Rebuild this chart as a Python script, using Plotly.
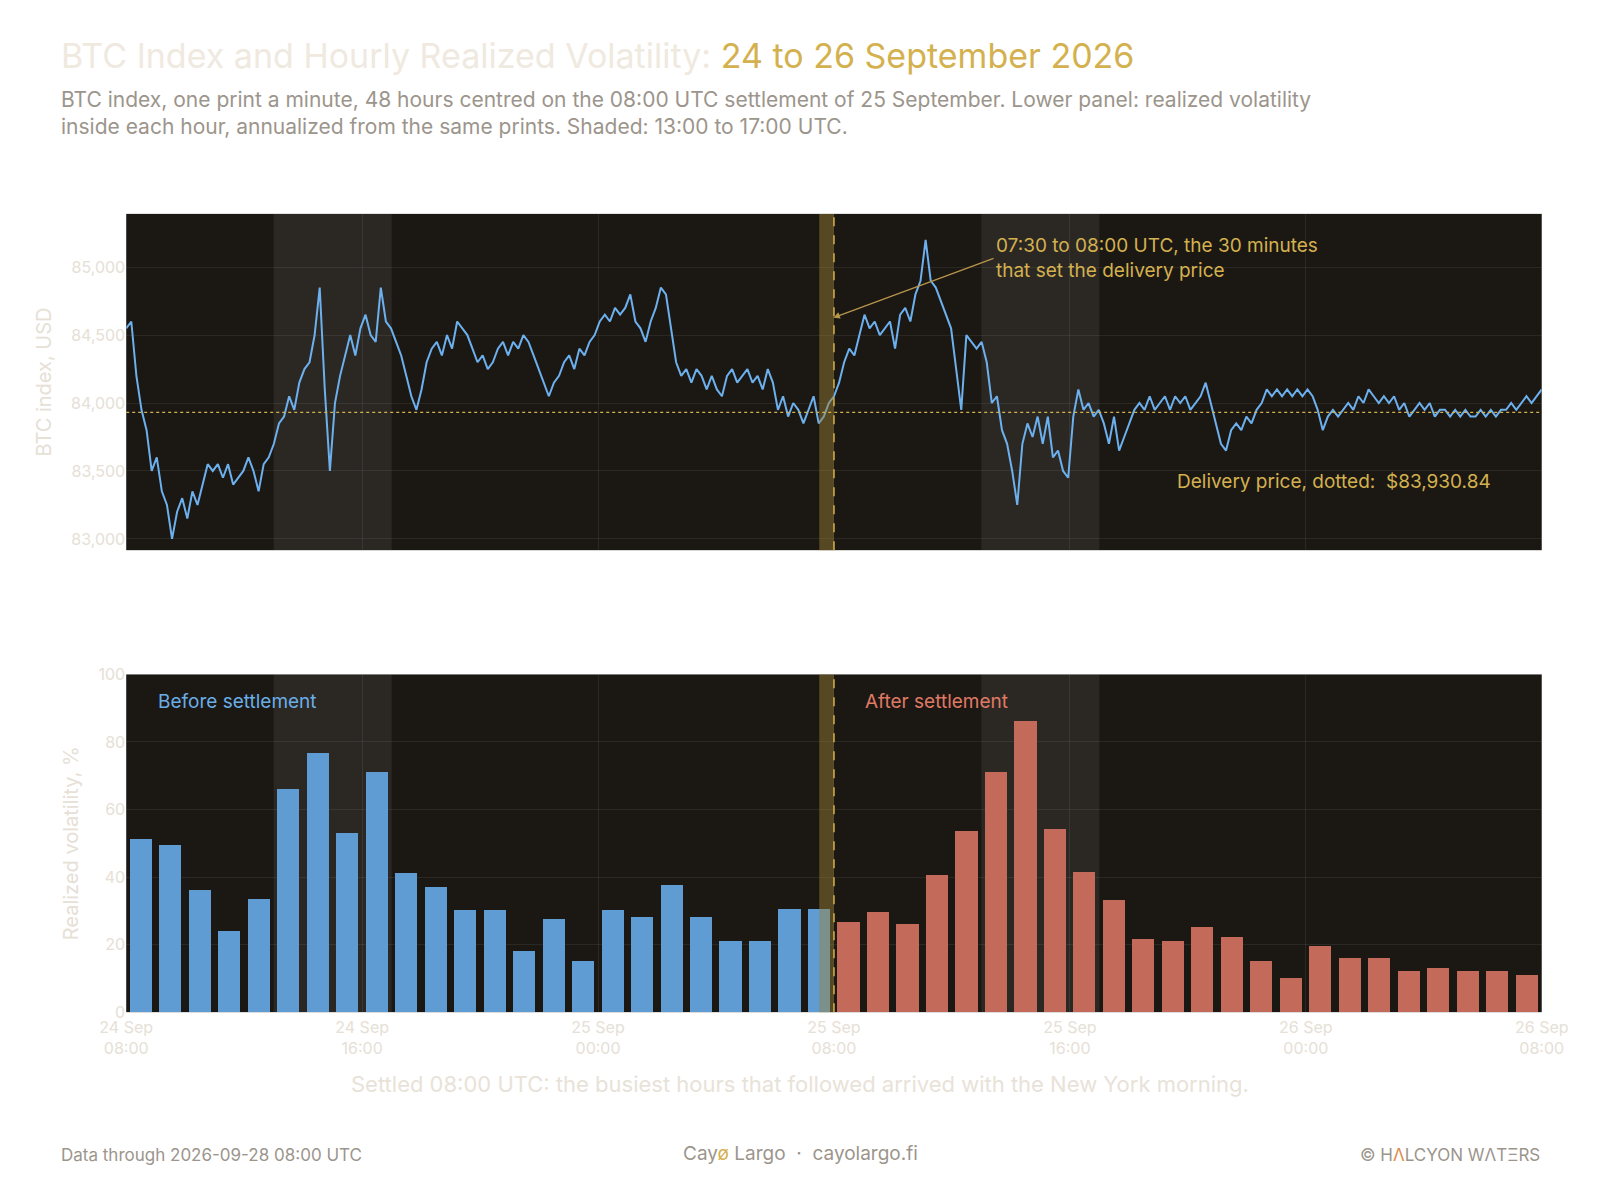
import numpy as np
import pandas as pd
import plotly.graph_objects as go

start = pd.Timestamp("2026-09-24 08:00")
end = pd.Timestamp("2026-09-26 08:00")
settle = pd.Timestamp("2026-09-25 08:00")
delivery_price = 83930.84

# BTC index readings, evenly spaced across the 48 hours
price = [84550,84600,84200,83950,83800,83500,83600,83350,83250,83000,83200,83300,83150,83350,83250,83400,83550,83500,83550,83450,
 83550,83400,83450,83500,83600,83500,83350,83550,83600,83700,83850,83900,84050,83950,84150,84250,84300,84500,84850,84100,
 83500,84000,84200,84350,84500,84350,84550,84650,84500,84450,84850,84600,84550,84450,84350,84200,84050,83950,84100,84300,
 84400,84450,84350,84500,84400,84600,84550,84500,84400,84300,84350,84250,84300,84400,84450,84350,84450,84400,84500,84450,
 84350,84250,84150,84050,84150,84200,84300,84350,84250,84400,84350,84450,84500,84600,84650,84600,84700,84650,84700,84800,
 84600,84550,84450,84600,84700,84850,84800,84550,84300,84200,84250,84150,84250,84200,84100,84200,84100,84050,84200,84250,
 84150,84200,84250,84150,84200,84100,84250,84150,83950,84050,83900,84000,83950,83850,83950,84050,83850,83900,84000,84050,
 84150,84300,84400,84350,84500,84650,84550,84600,84500,84550,84600,84400,84650,84700,84600,84800,84900,85200,84900,84850,
 84750,84650,84550,84250,83950,84500,84450,84400,84450,84300,84000,84050,83800,83700,83500,83250,83700,83850,83750,83900,
 83700,83900,83600,83650,83500,83450,83900,84100,83950,84000,83900,83950,83850,83700,83900,83650,83750,83850,83950,84000,
 83950,84050,83950,84000,84050,83950,84050,84000,84050,83950,84000,84050,84150,84000,83850,83700,83650,83800,83850,83800,
 83900,83850,83950,84000,84100,84050,84100,84050,84100,84050,84100,84050,84100,84050,83950,83800,83900,83950,83900,83950,
 84000,83950,84050,84000,84100,84050,84000,84050,84000,84050,83950,84000,83900,83950,84000,83950,84000,83900,83950,83950,
 83900,83950,83900,83950,83900,83900,83950,83900,83950,83900,83950,83950,84000,83950,84000,84050,84000,84050,84100]

vol_before = [51,49.5,36,24,33.5,66,76.5,53,71,41,37,30,30,18,27.5,15,30,28,37.5,28,21,21,30.5,30.5]
vol_after = [26.5,29.5,26,40.5,53.5,71,86,54,41.5,33,21.5,21,25,22,15,10,19.5,16,16,12,13,12,12,11]

tick_vals = pd.date_range(start, end, freq="8h")
tick_text = [f"{t.day} Sep<br>{t:%H:%M}" for t in tick_vals]

times = pd.to_datetime(np.linspace(start.value, end.value, len(price)))
hours_b = [start + pd.Timedelta(hours=i + 0.5) for i in range(24)]
hours_a = [settle + pd.Timedelta(hours=i + 0.5) for i in range(24)]

LIGHT = "#e6e0d6"
GOLD = "#d4b14f"
FONT = "Inter"
XD = [0.059, 0.9746]

fig = go.Figure()
fig.add_trace(go.Scatter(x=times, y=price, mode="lines", line=dict(color="#6db0ee", width=2),
                         xaxis="x", yaxis="y", showlegend=False))
fig.add_trace(go.Bar(x=hours_b, y=vol_before, marker=dict(color="#5e9cd3", line_width=0),
                     width=0.75*3600e3, xaxis="x2", yaxis="y2", showlegend=False))
fig.add_trace(go.Bar(x=hours_a, y=vol_after, marker=dict(color="#c46a5a", line_width=0),
                     width=0.75*3600e3, xaxis="x2", yaxis="y2", showlegend=False))

shapes = []
for ax, ay in [("x", "y"), ("x2", "y2")]:
    for d in ["2026-09-24", "2026-09-25"]:
        shapes.append(dict(type="rect", xref=ax, yref=f"{ay} domain", x0=f"{d} 13:00", x1=f"{d} 17:00",
                           y0=0, y1=1, fillcolor="rgba(255,255,255,0.07)", line_width=0, layer="below"))
    shapes.append(dict(type="rect", xref=ax, yref=f"{ay} domain", x0="2026-09-25 07:30", x1="2026-09-25 08:00",
                       y0=0, y1=1, fillcolor="rgba(160,130,50,0.45)", line_width=0, layer="above"))
    shapes.append(dict(type="line", xref=ax, yref=f"{ay} domain", x0=settle, x1=settle, y0=0, y1=1,
                       line=dict(color=GOLD, width=1.5, dash="dash")))
shapes.append(dict(type="line", xref="x domain", yref="y", x0=0, x1=1, y0=delivery_price, y1=delivery_price,
                   line=dict(color=GOLD, width=1.2, dash="dot")))

common_axis = dict(gridcolor="rgba(255,255,255,0.07)", zeroline=False, showline=False,
                   tickfont=dict(color=LIGHT, size=16, family=FONT))

fig.update_layout(
    width=1600, height=1200, paper_bgcolor="white", plot_bgcolor="#1b1814",
    margin=dict(l=0, r=0, t=0, b=0), bargap=0,
    font=dict(family=FONT, color=LIGHT),
    xaxis=dict(domain=XD, range=[start, end], tickvals=tick_vals, showticklabels=False, **common_axis),
    yaxis=dict(domain=[0.549, 0.834], range=[82917, 85392], tickvals=[83000,83500,84000,84500,85000],
               tickformat=",", title=dict(text="BTC index, USD", font=dict(size=20, color=LIGHT), standoff=14), **common_axis),
    xaxis2=dict(domain=XD, range=[start, end], tickvals=tick_vals, ticktext=tick_text, anchor="y2",
                ticklabelstandoff=4, **common_axis),
    yaxis2=dict(domain=[0.1575, 0.4437], range=[0, 100], tickvals=[0,20,40,60,80,100], anchor="x2",
                title=dict(text="Realized volatility, %", font=dict(size=20, color=LIGHT), standoff=14), **common_axis),
    shapes=shapes,
)

ann = [
    dict(text=f"BTC Index and Hourly Realized Volatility: <span style='color:{GOLD}'>24 to 26 September 2026</span>",
         xref="paper", yref="paper", x=0.0153, y=1-38/1200, xanchor="left", yanchor="middle", showarrow=False,
         font=dict(size=34, color="#efe9df")),
    dict(text="BTC index, one print a minute, 48 hours centred on the 08:00 UTC settlement of 25 September. Lower panel: realized volatility<br>inside each hour, annualized from the same prints. Shaded: 13:00 to 17:00 UTC.",
         xref="paper", yref="paper", x=0.0153, y=1-68/1200, xanchor="left", yanchor="top", showarrow=False, align="left",
         font=dict(size=21, color="#9c958c")),
    dict(text="07:30 to 08:00 UTC, the 30 minutes<br>that set the delivery price",
         x=pd.Timestamp("2026-09-25 07:55"), y=84623, xref="x", yref="y",
         ax=162, ay=-60, xanchor="left", yanchor="middle", align="left", showarrow=True,
         arrowhead=2, arrowsize=1, arrowwidth=1.3, arrowcolor="#b8954a", font=dict(size=19, color=GOLD), standoff=2),
    dict(text="Delivery price, dotted:  $83,930.84", x=pd.Timestamp("2026-09-26 06:20"), y=83420, xref="x", yref="y",
         xanchor="right", showarrow=False, font=dict(size=19, color=GOLD)),
    dict(text="Before settlement", xref="x2", yref="y2", x=pd.Timestamp("2026-09-24 09:00"), y=92, xanchor="left",
         showarrow=False, font=dict(size=19, color="#6aaee8")),
    dict(text="After settlement", xref="x2", yref="y2", x=pd.Timestamp("2026-09-25 09:00"), y=92, xanchor="left",
         showarrow=False, font=dict(size=19, color="#e07a64")),
    dict(text="Settled 08:00 UTC: the busiest hours that followed arrived with the New York morning.",
         xref="paper", yref="paper", x=0.495, y=1-1099/1200, showarrow=False, font=dict(size=22, color="#e8e2d8")),
    dict(text="Data through 2026-09-28 08:00 UTC", xref="paper", yref="paper", x=0.0153, y=1-1168/1200,
         xanchor="left", showarrow=False, font=dict(size=17, color="#9c958c")),
    dict(text=f"Cay<span style='color:{GOLD}'>ø</span> Largo  ·  cayolargo.fi", xref="paper", yref="paper",
         x=0.495, y=1-1168/1200, showarrow=False, font=dict(size=19, color="#9c958c")),
    dict(text="© H<span style='color:#e08a4a'>Λ</span>LCYON WΛTΞRS", xref="paper", yref="paper", x=0.9746, y=1-1168/1200,
         xanchor="right", showarrow=False, font=dict(size=17, color="#9c958c")),
]
fig.update_layout(annotations=ann)
fig.write_html("out.html")
